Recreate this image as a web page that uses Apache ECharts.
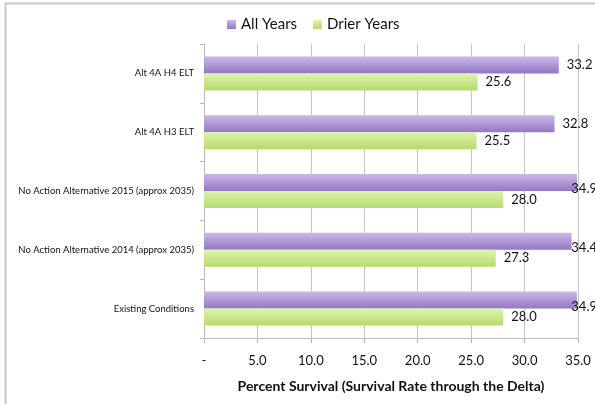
<!DOCTYPE html>
<html><head><meta charset="utf-8">
<script src="https://cdn.jsdelivr.net/npm/echarts@6/dist/echarts.min.js"></script>
<style>html,body{margin:0;padding:0;background:#fff}#c{width:595px;height:404px}</style>
</head><body><div id="c"></div>
<script>
const categories = ['Existing Conditions','No Action Alternative 2014 (approx 2035)','No Action Alternative 2015 (approx 2035)','Alt 4A H3 ELT','Alt 4A H4 ELT'];
const allYears = [34.9, 34.4, 34.9, 32.8, 33.2];
const drierYears = [28.0, 27.3, 28.0, 25.5, 25.6];
const seriesNames = ['All Years','Drier Years'];
const xTicks = [0,5,10,15,20,25,30,35];

const FONT = 'Lato';
const chart = echarts.init(document.getElementById('c'), null, {renderer:'canvas'});
function grad(top, bottom){
  return new echarts.graphic.LinearGradient(0,0,0,1,[{offset:0,color:top},{offset:1,color:bottom}]);
}
const labelCfg = {show:true, position:'right', distance:8, color:'#111', fontSize:13, fontFamily:FONT, formatter: p => p.value.toFixed(1)};
chart.setOption({
  animation:false,
  textStyle:{fontFamily:FONT},
  graphic:[{type:'rect', shape:{x:5.5,y:3.5,width:700,height:500}, style:{fill:'none', stroke:'#c8c8c8', lineWidth:2}, z:-1}],
  legend:{top:12, left:222, itemWidth:9, itemHeight:9, itemGap:16, icon:'rect',
    textStyle:{fontSize:15, color:'#111', fontFamily:FONT}, data:seriesNames},
  grid:{left:204, right:17, top:44, bottom:66},
  xAxis:{type:'value', min:xTicks[0], max:xTicks[xTicks.length-1], interval:5,
    axisLine:{show:true, lineStyle:{color:'#b8b8b8'}},
    axisTick:{show:true, length:5, lineStyle:{color:'#b8b8b8'}},
    splitLine:{show:true, lineStyle:{color:'#c4c4c4'}},
    axisLabel:{fontSize:13, color:'#111', margin:16, fontFamily:FONT, formatter: v => v===0 ? '-' : v.toFixed(1)},
    name:'Percent Survival (Survival Rate through the Delta)', nameLocation:'middle', nameGap:41,
    nameTextStyle:{fontSize:14, fontWeight:'bold', color:'#111', fontFamily:FONT}},
  yAxis:{type:'category', data:categories,
    axisLine:{show:true, lineStyle:{color:'#b8b8b8'}},
    axisTick:{show:true, length:4, lineStyle:{color:'#b8b8b8'}},
    axisLabel:{fontSize:9.5, color:'#111', margin:10, fontFamily:FONT}},
  labelLayout: function(p){
    const r = p.labelRect;
    if (r.x + r.width > 597) return {x: 597 - r.width};
    return {};
  },
  series:[
    {name:seriesNames[0], type:'bar', data:allYears, barWidth:17, barGap:'0%',
     itemStyle:{color:grad('#cbb8e8','#9477c4')}, label:labelCfg},
    {name:seriesNames[1], type:'bar', data:drierYears, barWidth:17, barGap:'0%',
     itemStyle:{color:grad('#e0f2ae','#b5db6c')}, label:labelCfg}
  ]
});
</script></body></html>
